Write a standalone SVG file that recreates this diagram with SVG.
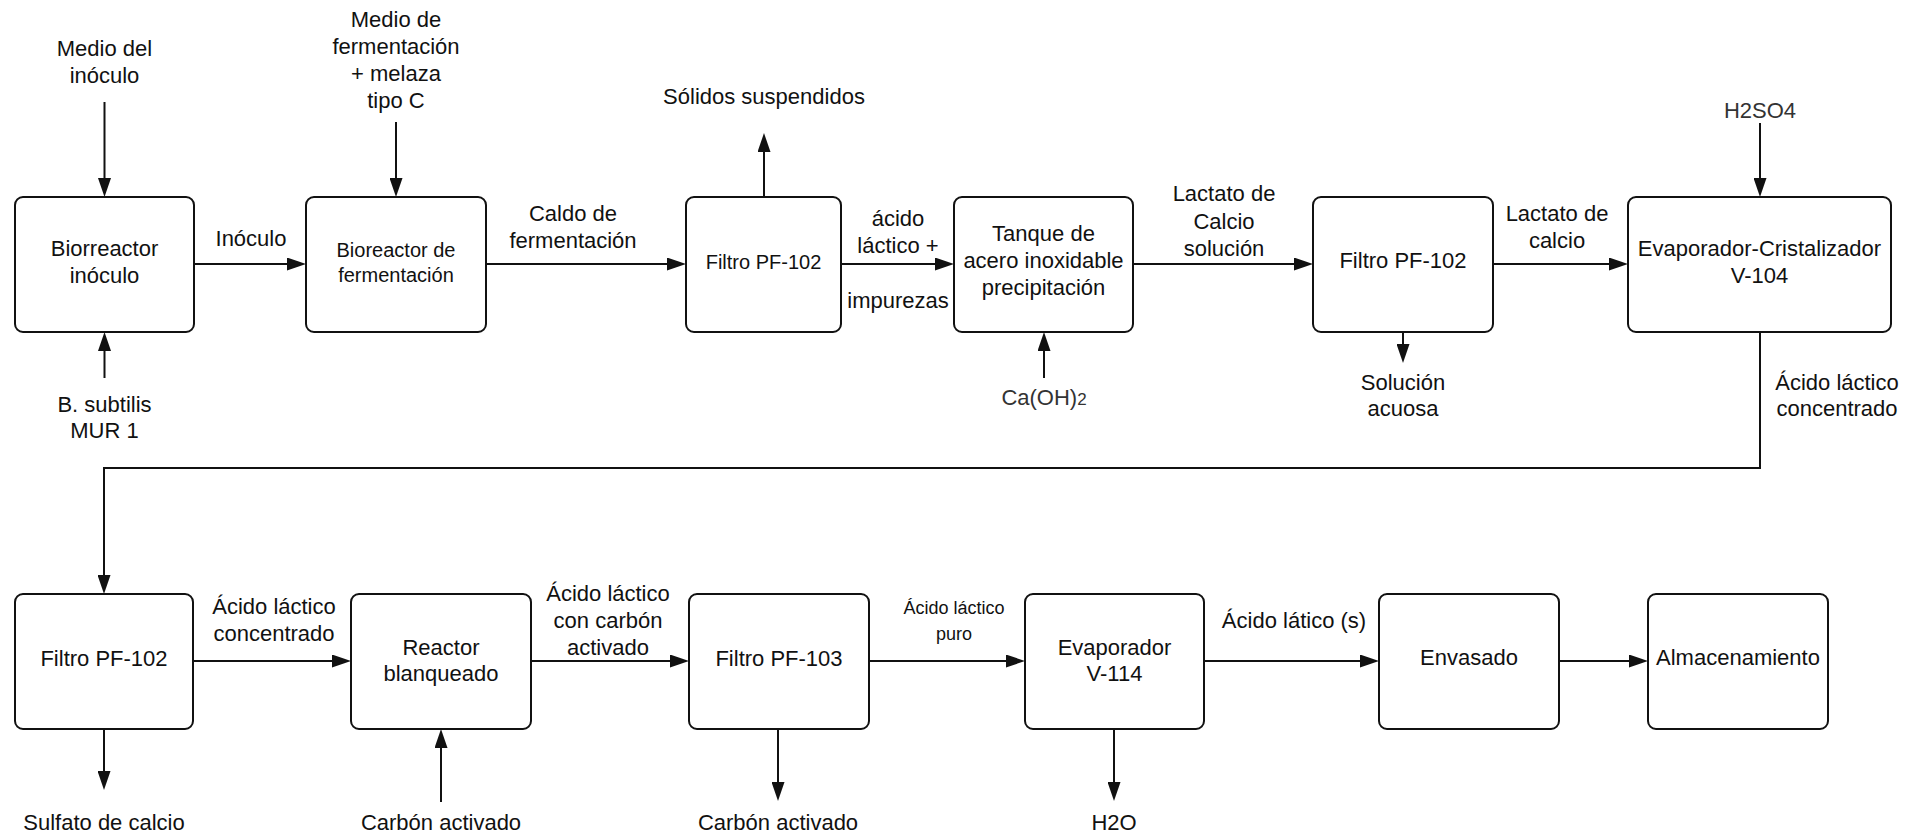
<svg xmlns="http://www.w3.org/2000/svg" width="1922" height="835" viewBox="0 0 1922 835">
<style>
text{font-family:"Liberation Sans",Arial,sans-serif;font-size:22px;fill:#111;text-anchor:middle}
.s{font-size:20px}
.xs{font-size:18px}
.g{fill:#333}
.box{fill:#fff;stroke:#111;stroke-width:2}
.c{fill:none;stroke:#111;stroke-width:2;marker-end:url(#ah)}
</style>
<defs>
<marker id="ah" markerUnits="userSpaceOnUse" markerWidth="19" markerHeight="13" refX="9" refY="6.5" orient="auto">
<path d="M0,0 L19,6.5 L0,13 z" fill="#111"/>
</marker>
</defs>
<rect width="1922" height="835" fill="#fff"/>
<g id="connectors">
<path class="c" d="M104.5,102 V187"/>
<path class="c" d="M104.5,378 V342"/>
<path class="c" d="M396,122 V187"/>
<path class="c" d="M194,264 H296"/>
<path class="c" d="M486,264 H676"/>
<path class="c" d="M764,197 V143"/>
<path class="c" d="M841,264 H944"/>
<path class="c" d="M1044,378 V342"/>
<path class="c" d="M1133,264 H1303"/>
<path class="c" d="M1403,332 V353"/>
<path class="c" d="M1493,264 H1618"/>
<path class="c" d="M1760,123 V187"/>
<path class="c" d="M1760,332 V468 H104 V584"/>
<path class="c" d="M104,729 V780"/>
<path class="c" d="M193,661 H341"/>
<path class="c" d="M441,802 V739"/>
<path class="c" d="M531,661 H679"/>
<path class="c" d="M778,729 V791"/>
<path class="c" d="M869,661 H1015"/>
<path class="c" d="M1114,729 V791"/>
<path class="c" d="M1204,661 H1369"/>
<path class="c" d="M1559,661 H1638"/>
</g>
<g id="labels">
<text x="104.5" y="56">Medio del</text>
<text x="104.5" y="83">inóculo</text>
<text x="396" y="27">Medio de</text>
<text x="396" y="54">fermentación</text>
<text x="396" y="81">+ melaza</text>
<text x="396" y="108">tipo C</text>
<text x="104.5" y="412">B. subtilis</text>
<text x="104.5" y="438">MUR 1</text>
<text x="251" y="246">Inóculo</text>
<text x="573" y="221">Caldo de</text>
<text x="573" y="248">fermentación</text>
<text x="764" y="104">Sólidos suspendidos</text>
<text x="898" y="226">ácido</text>
<text x="898" y="253">láctico +</text>
<text x="898" y="308">impurezas</text>
<text class="g" x="1044" y="405">Ca(OH)<tspan font-size="17">2</tspan></text>
<text x="1224" y="201">Lactato de</text>
<text x="1224" y="229">Calcio</text>
<text x="1224" y="256">solución</text>
<text x="1403" y="390">Solución</text>
<text x="1403" y="416">acuosa</text>
<text x="1557" y="221">Lactato de</text>
<text x="1557" y="248">calcio</text>
<text class="g" x="1760" y="118">H2SO4</text>
<text x="1837" y="390">Ácido láctico</text>
<text x="1837" y="416">concentrado</text>
<text x="274" y="614">Ácido láctico</text>
<text x="274" y="641">concentrado</text>
<text x="608" y="601">Ácido láctico</text>
<text x="608" y="628">con carbón</text>
<text x="608" y="655">activado</text>
<text class="xs" x="954" y="614">Ácido láctico</text>
<text class="xs" x="954" y="640">puro</text>
<text x="1294" y="628">Ácido lático (s)</text>
<text x="104" y="830">Sulfato de calcio</text>
<text x="441" y="830">Carbón activado</text>
<text x="778" y="830">Carbón activado</text>
<text x="1114" y="830">H2O</text>
</g>
<g id="n1"><rect class="box" x="15" y="197" width="179" height="135" rx="8"/><text x="104.5" y="256">Biorreactor</text><text x="104.5" y="283">inóculo</text></g>
<g id="n2"><rect class="box" x="306" y="197" width="180" height="135" rx="8"/><text class="s" x="396" y="257">Bioreactor de</text><text class="s" x="396" y="282">fermentación</text></g>
<g id="n3"><rect class="box" x="686" y="197" width="155" height="135" rx="8"/><text class="s" x="763.5" y="269">Filtro PF-102</text></g>
<g id="n4"><rect class="box" x="954" y="197" width="179" height="135" rx="8"/><text x="1043.5" y="241">Tanque de</text><text x="1043.5" y="268">acero inoxidable</text><text x="1043.5" y="295">precipitación</text></g>
<g id="n5"><rect class="box" x="1313" y="197" width="180" height="135" rx="8"/><text x="1403" y="268">Filtro PF-102</text></g>
<g id="n6"><rect class="box" x="1628" y="197" width="263" height="135" rx="8"/><text x="1759.5" y="256">Evaporador-Cristalizador</text><text x="1759.5" y="283">V-104</text></g>
<g id="n7"><rect class="box" x="15" y="594" width="178" height="135" rx="8"/><text x="104" y="666">Filtro PF-102</text></g>
<g id="n8"><rect class="box" x="351" y="594" width="180" height="135" rx="8"/><text x="441" y="655">Reactor</text><text x="441" y="681">blanqueado</text></g>
<g id="n9"><rect class="box" x="689" y="594" width="180" height="135" rx="8"/><text x="779" y="666">Filtro PF-103</text></g>
<g id="n10"><rect class="box" x="1025" y="594" width="179" height="135" rx="8"/><text x="1114.5" y="655">Evaporador</text><text x="1114.5" y="681">V-114</text></g>
<g id="n11"><rect class="box" x="1379" y="594" width="180" height="135" rx="8"/><text x="1469" y="665">Envasado</text></g>
<g id="n12"><rect class="box" x="1648" y="594" width="180" height="135" rx="8"/><text x="1738" y="665">Almacenamiento</text></g>
</svg>
